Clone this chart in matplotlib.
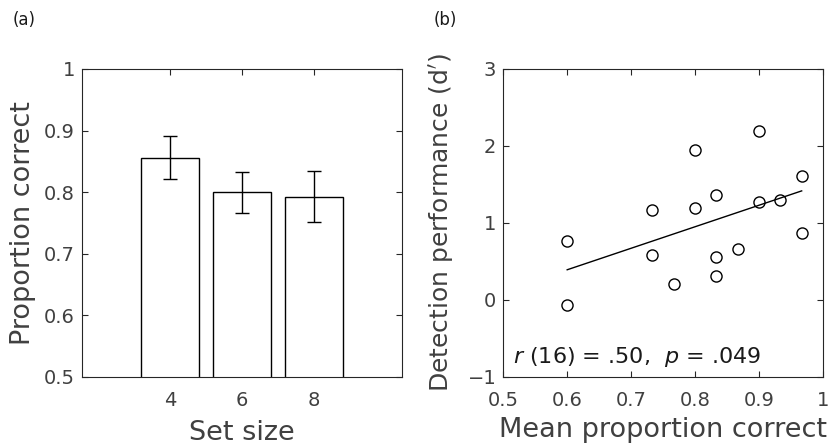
import numpy as np
from matplotlib import pyplot as plt

plt.rcParams['font.family'] = ['DejaVu Sans']
plt.rcParams['mathtext.fontset'] = 'dejavusans'

# panel (a)
set_sizes = [4, 6, 8]
prop_correct = [0.856, 0.800, 0.793]
prop_err = [0.035, 0.033, 0.042]

# panel (b)
mean_prop = [0.600, 0.600, 0.733, 0.733, 0.767, 0.800, 0.800, 0.833,
             0.833, 0.833, 0.867, 0.900, 0.900, 0.933, 0.967, 0.967]
dprime = [0.76, -0.06, 1.165, 0.59, 0.21, 1.95, 1.19, 1.37,
          0.56, 0.315, 0.665, 2.195, 1.27, 1.30, 1.61, 0.865]

grey = '#404040'
fig = plt.figure(figsize=(8.33, 4.48), dpi=100)

def style(ax):
    for s in ax.spines.values():
        s.set_color('#262626')
        s.set_linewidth(0.8)
    ax.tick_params(direction='in', top=True, right=True, colors='#262626',
                   labelcolor=grey, labelsize=14, length=4, width=0.8)
    ax.tick_params(axis='x', pad=10)
    ax.tick_params(axis='y', pad=5)

ax1 = fig.add_axes([0.0984, 0.1585, 0.3842, 0.6875])
ax1.bar(set_sizes, prop_correct, width=1.6, color='white', edgecolor='black',
        linewidth=1.0, zorder=2)
ax1.errorbar(set_sizes, prop_correct, yerr=prop_err, fmt='none', ecolor='black',
             elinewidth=1.0, capsize=5, capthick=1.0, zorder=3)
ax1.set_xlim(1.55, 10.45)
ax1.set_ylim(0.5, 1.0)
ax1.set_xticks(set_sizes)
ax1.set_yticks([0.5, 0.6, 0.7, 0.8, 0.9, 1.0])
ax1.set_yticklabels(['0.5', '0.6', '0.7', '0.8', '0.9', '1'])
style(ax1)
ax1.set_xlabel('Set size', fontsize=19.5, color=grey, labelpad=7)
ax1.set_ylabel('Proportion correct', fontsize=19.5, color=grey, labelpad=6)

ax2 = fig.add_axes([0.6042, 0.1585, 0.3835, 0.6875])
ax2.plot(mean_prop, dprime, 'o', mfc='none', mec='black', ms=8, mew=1.0)
k, b = np.polyfit(mean_prop, dprime, 1)
xs = np.array([min(mean_prop), max(mean_prop)])
ax2.plot(xs, k * xs + b, color='black', linewidth=1.0)
ax2.set_xlim(0.5, 1.0)
ax2.set_ylim(-1, 3)
ax2.set_xticks([0.5, 0.6, 0.7, 0.8, 0.9, 1.0])
ax2.set_xticklabels(['0.5', '0.6', '0.7', '0.8', '0.9', '1'])
ax2.set_yticks([-1, 0, 1, 2, 3])
ax2.set_yticklabels(['\u22121', '0', '1', '2', '3'])
style(ax2)
ax2.set_xlabel('Mean proportion correct', fontsize=19.5, color=grey, labelpad=5)
ax2.set_ylabel('Detection performance (d$^{\\prime}$)', fontsize=18, color=grey,
               labelpad=8)
ax2.text(0.03, 0.025, r'$\it{r}$ (16) = .50,  $\it{p}$ = .049', transform=ax2.transAxes,
         fontsize=16, color='#1a1a1a', ha='left', va='bottom')

fig.text(0.015, 0.975, '(a)', fontsize=12, color='#1a1a1a', ha='left', va='top')
fig.text(0.521, 0.975, '(b)', fontsize=12, color='#1a1a1a', ha='left', va='top')

fig.savefig('out.png', dpi=100)
